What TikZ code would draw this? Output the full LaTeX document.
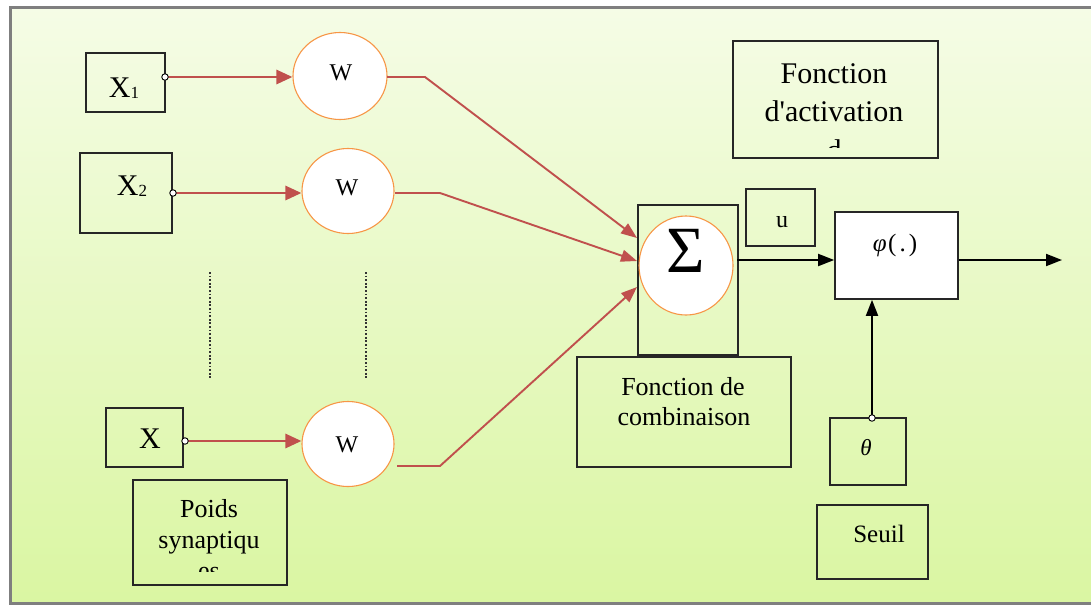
\documentclass[tikz,border=0pt]{standalone}
\usepackage{fontspec}
\setmainfont{Liberation Serif}
\usetikzlibrary{arrows.meta,shapes.geometric}
\definecolor{synred}{HTML}{C0504D}
\definecolor{ringorange}{HTML}{F79646}
\definecolor{framegray}{HTML}{7F7F7F}
\definecolor{bgtop}{HTML}{F5FCE6}
\definecolor{bgbottom}{HTML}{DAF6A2}
\newcommand{\fsz}[1]{\fontsize{#1}{#1}\selectfont}

\tikzset{
  blockbox/.style={draw=black!85, line width=1.7pt, inner sep=0pt},
  weight/.style={ellipse, draw=ringorange, line width=1.1pt, fill=white, inner sep=0pt},
  lbl/.style={inner sep=0pt, anchor=base},
  inarrow/.style={draw=synred, line width=2.8pt, -{Triangle[length=16pt,width=14pt]}},
  wline/.style={draw=synred, line width=1.9pt, -{Triangle[length=16pt,width=12pt]}},
  sigline/.style={draw=black, line width=1.9pt, -{Triangle[length=16pt,width=12pt]}},
  tap/.style={circle, draw=black, fill=white, line width=0.9pt, minimum size=6.5pt, inner sep=0pt},
  guide/.style={draw=black!80, line width=2.4pt, dash pattern=on 1.8pt off 1.8pt},
}

\begin{document}
\begin{tikzpicture}[x=1pt,y=-1pt]
\useasboundingbox (0,0) rectangle (1091,605);
% background panel
\fill[white] (0,0) rectangle (1091,605);
\shade[top color=bgtop, bottom color=bgbottom] (10,7) rectangle (1091,603);
\draw[framegray, line width=3pt] (1091,7) -- (10,7) -- (10,603) -- (1091,603);

% input boxes
\node[blockbox, minimum width=79pt, minimum height=59pt] (x1) at (125.5,82.5) {};
\node[blockbox, minimum width=92pt, minimum height=80pt] (x2) at (126,193) {};
\node[blockbox, minimum width=77pt, minimum height=59pt] (xn) at (144.5,437.5) {};
\node[lbl] (x1lbl) at (124,97) {\fsz{30}X\raisebox{-1.5pt}{\fsz{17}1}};
\node[lbl] (x2lbl) at (132,195) {\fsz{30}X\raisebox{-1.5pt}{\fsz{17}2}};
\node[lbl] (xnlbl) at (150,448) {\fsz{30}X};

% synaptic weights
\node[weight, minimum width=94pt, minimum height=87pt] (w1) at (340,76) {};
\node[weight, minimum width=92pt, minimum height=85pt] (w2) at (348,191) {};
\node[weight, minimum width=92pt, minimum height=85pt] (w3) at (348,444) {};
\node[lbl] (w1lbl) at (341,80) {\fsz{24}W};
\node[lbl] (w2lbl) at (347,195) {\fsz{24}W};
\node[lbl] (w3lbl) at (347,452) {\fsz{24}W};

% elided inputs
\coordinate (g1a) at (210,272); \coordinate (g1b) at (210,378);
\coordinate (g2a) at (366,272); \coordinate (g2b) at (366,378);
\draw[guide] (g1a) -- (g1b);
\draw[guide] (g2a) -- (g2b);

% "Poids synaptiques" caption box
\node[blockbox, minimum width=154pt, minimum height=105pt] (poids) at (210,532.5) {};
\begin{scope}
  \clip (133,480) rectangle (287,571);
  \node[lbl] (poids1) at (209,517) {\fsz{26}Poids};
  \node[lbl] (poids2) at (209,548) {\fsz{26}synaptiqu};
  \node[lbl] (poids3) at (209,579) {\fsz{26}es};
\end{scope}

% combination function
\node[blockbox, minimum width=100pt, minimum height=150pt] (sbox) at (688,280) {};
\node[weight, minimum width=94pt, minimum height=99pt] (sigma) at (686,265.5) {};
\node[inner sep=0pt] (siglbl) at (686,251) {\fsz{66}Σ};
\node[blockbox, minimum width=214pt, minimum height=110pt] (comb) at (684,412) {};
\node[lbl] (comb1) at (683,395) {\fsz{26}Fonction de};
\node[lbl] (comb2) at (684,425) {\fsz{26}combinaison};

% activation function
\node[blockbox, minimum width=69pt, minimum height=57pt] (ubox) at (780.5,217.5) {};
\node[lbl] (ulbl) at (782,227) {\fsz{24}u};
\node[blockbox, fill=white, minimum width=123pt, minimum height=87pt] (phibox) at (896.5,255.5) {};
\node[lbl] (philbl) at (895,251) {\fsz{25}\textit{φ}\kern1.5pt(\kern3pt.\kern3pt)};
\node[blockbox, minimum width=205pt, minimum height=117pt] (act) at (835.5,99.5) {};
\begin{scope}
  \clip (733,41) rectangle (938,147);
  \node[lbl] (act1) at (834,83) {\fsz{30}Fonction};
  \node[lbl] (act2) at (834,121) {\fsz{30}d\textquotesingle activation};
  \node[lbl] (act3) at (834,160) {\fsz{30}d};
\end{scope}

% threshold
\node[blockbox, minimum width=76pt, minimum height=67pt] (theta) at (868,451.5) {};
\node[lbl] (thetalbl) at (866,455) {\fsz{23}\textit{θ}};
\node[blockbox, minimum width=111pt, minimum height=74pt] (seuil) at (872.5,542) {};
\node[lbl] (seuillbl) at (879,542) {\fsz{25}Seuil};

% connection points
\coordinate (x1dot) at (165,77);
\coordinate (x2dot) at (173,193);
\coordinate (xndot) at (185,441);
\coordinate (w1out) at (387,77);
\coordinate (w2out) at (395,193);
\coordinate (w3out) at (397,466);
\coordinate (k1) at (425,77);
\coordinate (k2) at (440,193);
\coordinate (k3) at (440,466);
\coordinate (in1) at (637,238);
\coordinate (in2) at (637,261);
\coordinate (in3) at (637,287);
\coordinate (sout) at (737,260);
\coordinate (yout) at (1062,260);
\coordinate (thetadot) at (872,418);

% input -> weight
\draw[inarrow] (x1dot) -- (x1dot -| w1.west);
\draw[inarrow] (x2dot) -- (x2dot -| w2.west);
\draw[inarrow] (xndot) -- (xndot -| w3.west);

% weight -> summation
\draw[wline] (w1out) -- (k1) -- (in1);
\draw[wline] (w2out) -- (k2) -- (in2);
\draw[wline] (w3out) -- (k3) -- (in3);

% summation -> activation -> output
\draw[sigline] (sout) -- (sout -| phibox.west);
\draw[sigline] (sout -| phibox.east) -- (yout);
\draw[sigline] (thetadot) -- (thetadot |- phibox.south);

% terminal taps
\node[tap] (tap1) at (x1dot) {};
\node[tap] (tap2) at (x2dot) {};
\node[tap] (tap3) at (xndot) {};
\node[tap] (tap4) at (thetadot) {};
\end{tikzpicture}
\end{document}
